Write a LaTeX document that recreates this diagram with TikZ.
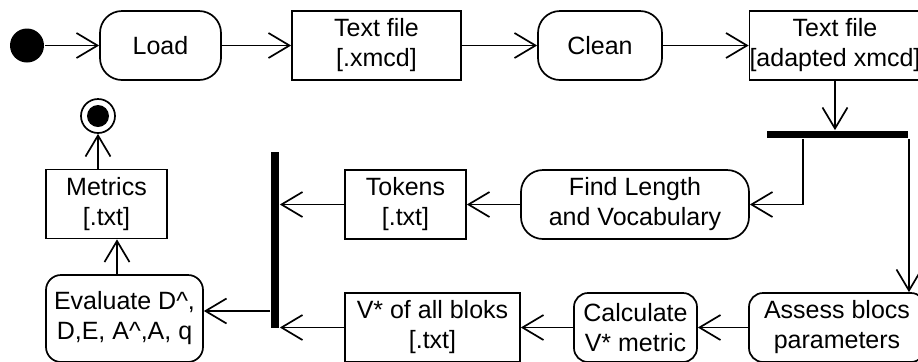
\documentclass[tikz,border=0pt]{standalone}
\usepackage{fontspec}
\setmainfont{Liberation Sans}
\usetikzlibrary{arrows.meta}

\begin{document}
\begin{tikzpicture}[x=0.5pt,y=-0.5pt,>={Straight Barb[length=10.5pt,width=12.5pt]},
                    line width=0.85pt,font=\fontsize{12.5}{15}\selectfont]
  \tikzstyle{action} = [draw, rectangle, rounded corners=11pt, align=center,
    minimum height=34.5pt, inner sep=0pt]
  \tikzstyle{object} = [draw, rectangle, align=center, minimum height=34.5pt,
    inner sep=0pt]
  \tikzstyle{bar} = [fill=black, rectangle, inner sep=0pt]
  \clip (0,0) rectangle (918,361);
  \node[circle,fill,minimum size=17pt,inner sep=0pt] (start) at (27,45.5) {};
  \node[action,minimum width=60.5pt] (load) at (160.5,45.5) {Load};
  \node[object,minimum width=84.5pt] (xmcd) at (376.5,45.5) {Text file\\{[.xmcd]}};
  \node[action,minimum width=62pt] (clean) at (600,45.5) {Clean};
  \node[object,minimum width=83pt] (adapted) at (835,45.5) {Text file\\{[adapted xmcd]}};
  \node[bar,minimum width=70.5pt,minimum height=3.5pt] (fork) at (837.5,134.5) {};
  \node[action,minimum width=114pt] (findlen) at (635,204.5) {Find Length\\and Vocabulary};
  \node[object,minimum width=60.5pt] (tokens) at (405.5,204.5) {Tokens\\{[.txt]}};
  \node[bar,minimum width=4pt,minimum height=88pt] (join) at (275,240) {};
  \node[action,rounded corners=7pt,minimum width=88pt] (assess) at (837,327.5) {Assess blocs\\parameters};
  \node[action,rounded corners=7pt,minimum width=61.5pt] (calc) at (635.5,327.5) {Calculate\\V* metric};
  \node[object,minimum width=87.5pt] (vstar) at (432.5,327.5) {V* of all bloks\\{[.txt]}};
  \node[action,rounded corners=7.5pt,minimum width=78.5pt,minimum height=43.5pt] (evaluate) at (124.5,318.5) {Evaluate D\textasciicircum,\\D,E, A\textasciicircum,A, q};
  \node[object,minimum width=60.5pt] (metrics) at (106.5,204) {Metrics\\{[.txt]}};
  \node[circle,draw,fill=white,minimum size=17pt,inner sep=0pt] (end) at (98,116) {};
  \node[circle,fill,minimum size=11pt,inner sep=0pt] (enddot) at (end) {};
  \path[->]
        (start) edge (load)
        (load) edge (xmcd)
        (xmcd) edge (clean)
        (clean) edge (adapted)
        (adapted.south) edge (adapted.south |- fork.north)
        (findlen) edge (tokens)
        (tokens.west) edge (tokens.west -| join.east)
        (vstar.west) edge (vstar.west -| join.east)
        (assess) edge (calc)
        (calc) edge (vstar)
        (metrics.north -| end) edge (end);
  \draw[->] ([xshift=-17.25pt]fork.south) |- (findlen.east);
  \draw[->] ([xshift=35.75pt]fork.south) -- ([xshift=35.75pt]fork.south |- assess.north);
  \draw[->] ([yshift=3.75pt]join.west |- evaluate.east) -- ([yshift=3.75pt]evaluate.east);
  \draw[->] ([xshift=-3.75pt]evaluate.north) -- ([xshift=-3.75pt]evaluate.north |- metrics.south);
\end{tikzpicture}
\end{document}
